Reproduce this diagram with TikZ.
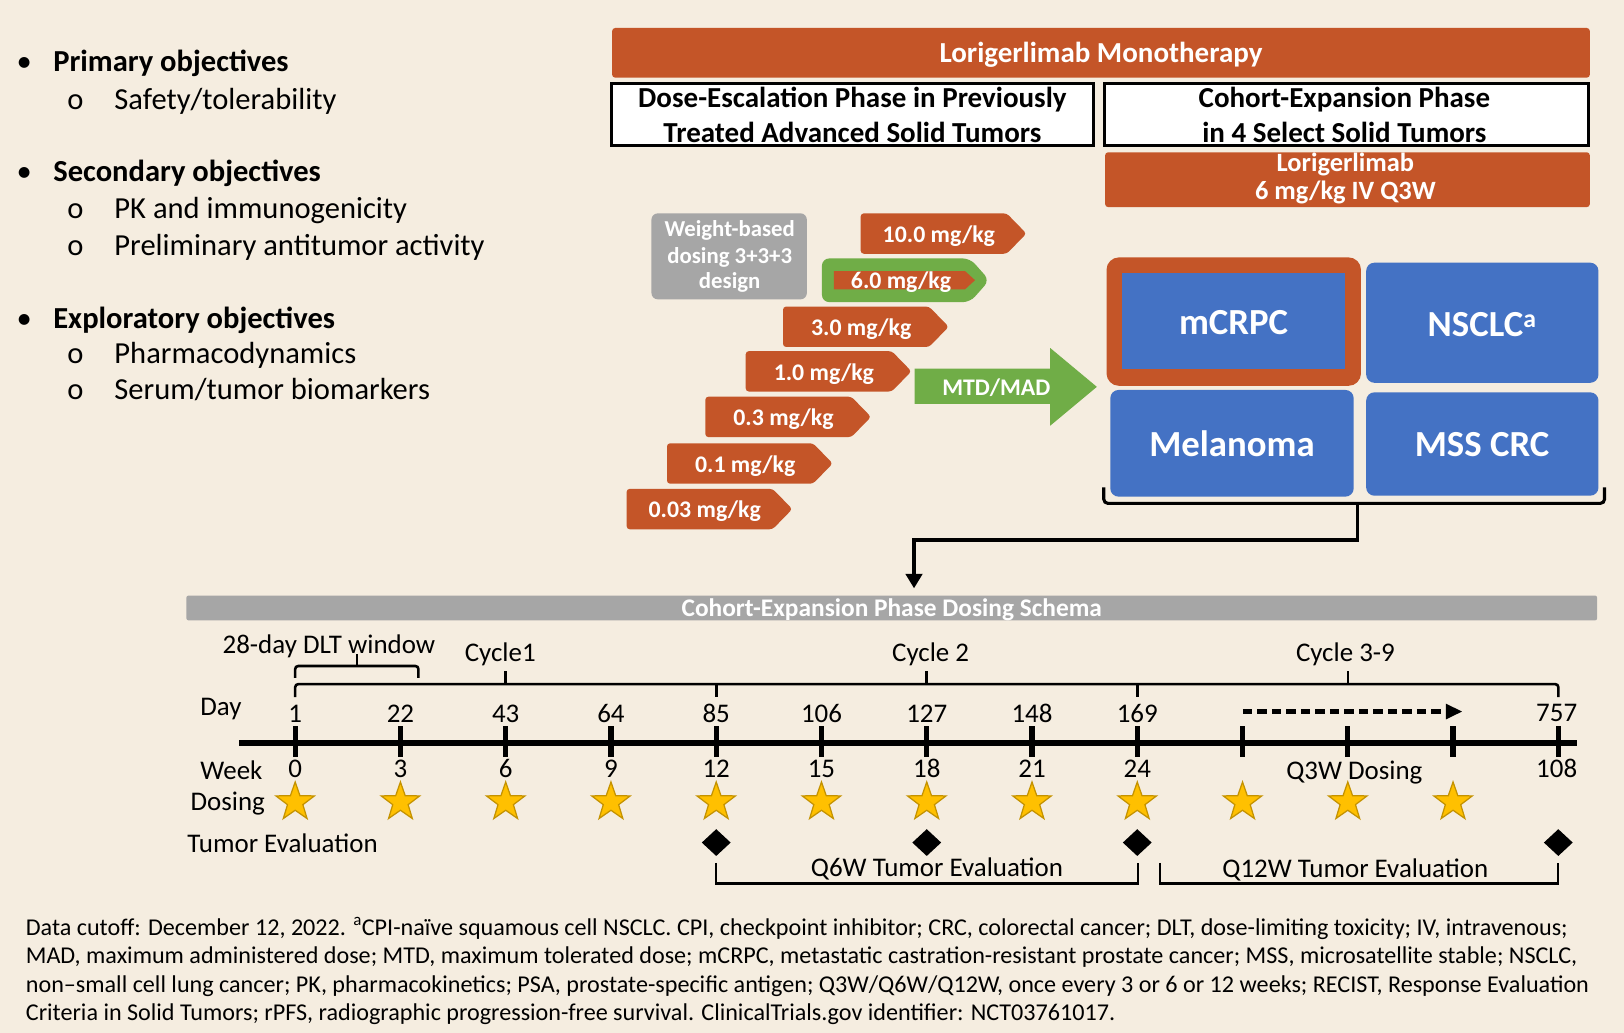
\documentclass[tikz,border=0pt]{standalone}
\usepackage{fontspec}
\setmainfont{Carlito}
\usetikzlibrary{shapes.geometric,arrows.meta}
\definecolor{bgc}{RGB}{245,237,224}
\definecolor{org}{RGB}{196,85,40}
\definecolor{blu}{RGB}{68,114,196}
\definecolor{grn}{RGB}{112,173,71}
\definecolor{gry}{RGB}{166,166,166}
\definecolor{gld}{RGB}{255,192,0}
\definecolor{glddk}{RGB}{196,146,0}
\newcommand\fsz[1]{\fontsize{#1}{#1}\selectfont}
\newcommand\dosearrow[5]{%
  \path[fill=#5, rounded corners=3pt] (#2,#3) -- ({#2+141},#3) -- ({#2+160},{#3+19.5}) -- ({#2+141},{#3+39}) -- (#2,{#3+39}) -- cycle;
  \node[doselbl] (#1) at ({#2+75.5},{#3+28}) {#4};}
\begin{document}
\begin{tikzpicture}[x=1pt,y=-1pt,
  lbl/.style={inner sep=0pt, outer sep=0pt},
  hd/.style={lbl, anchor=base west, font=\fsz{29.5}\bfseries},
  it/.style={lbl, anchor=base west, font=\fsz{29.5}},
  wb/.style={lbl, anchor=base, text=white},
  bb/.style={lbl, anchor=base, text=black, font=\fsz{28}\bfseries},
  doselbl/.style={lbl, anchor=base, text=white, font=\fsz{23}\bfseries},
  tl/.style={lbl, anchor=base, font=\fsz{26}},
  tlw/.style={lbl, anchor=base west, font=\fsz{26}},
  ft/.style={lbl, anchor=base west, font=\fsz{23.3}},
  panel/.style={inner sep=0pt, outer sep=0pt},
  blubox/.style={panel, fill=blu, rounded corners=8pt},
  wbox/.style={panel, draw=black, line width=2.5pt, fill=white},
  br/.style={line width=2.5pt, rounded corners=3pt},
  br2/.style={line width=2pt},
  starn/.style={star, star points=5, star point ratio=2.5, minimum size=39pt, inner sep=0pt, fill=gld, draw=glddk, line width=1.2pt},
  dmd/.style={diamond, fill=black, minimum width=28pt, minimum height=26pt, inner sep=0pt}
]
\fill[bgc] (0,0) rectangle (1568,997);
\useasboundingbox (0,0) rectangle (1568,997);

% ---------- objectives ----------
\node[it] (b1) at (16,69.2) {\textbullet};
\node[hd] (h1) at (51.5,69.2) {Primary objectives};
\node[it] (o1) at (65,105.6) {o};
\node[it] (i1) at (110.5,105.6) {Safety/tolerability};
\node[it] (b2) at (16,175.4) {\textbullet};
\node[hd] (h2) at (51.5,175.4) {Secondary objectives};
\node[it] (o2) at (65,210.8) {o};
\node[it] (i2) at (110.5,210.8) {PK and immunogenicity};
\node[it] (o3) at (65,246.2) {o};
\node[it] (i3) at (110.5,246.2) {Preliminary antitumor activity};
\node[it] (b3) at (16,317) {\textbullet};
\node[hd] (h3) at (51.5,317) {Exploratory objectives};
\node[it] (o4) at (65,350.8) {o};
\node[it] (i4) at (110.5,350.8) {Pharmacodynamics};
\node[it] (o5) at (65,385.6) {o};
\node[it] (i5) at (110.5,385.6) {Serum/tumor biomarkers};

% ---------- header boxes ----------
\node[panel, fill=org, rounded corners=3pt, minimum width=944pt, minimum height=48pt] (mono) at (1063,51) {};
\node[wb, font=\fsz{28}\bfseries] (monot) at (1063,60.5) {Lorigerlimab Monotherapy};
\node[wbox, minimum width=465pt, minimum height=60pt] (esc) at (823,110.5) {};
\node[bb] (esc1) at (823,104) {Dose-Escalation Phase in Previously};
\node[bb] (esc2) at (823,137.5) {Treated Advanced Solid Tumors};
\node[wbox, minimum width=467pt, minimum height=60pt] (coh) at (1300,110.5) {};
\node[bb] (coh1) at (1298,104) {Cohort-Expansion Phase};
\node[bb] (coh2) at (1298,137.5) {in 4 Select Solid Tumors};
\node[panel, fill=org, rounded corners=3pt, minimum width=468pt, minimum height=53pt] (lori) at (1301,173.5) {};
\node[wb, font=\fsz{25.5}\bfseries] (lori1) at (1299,166) {Lorigerlimab};
\node[wb, font=\fsz{25.5}\bfseries] (lori2) at (1299,193) {6 mg/kg IV Q3W};

% ---------- dose escalation ----------
\node[panel, fill=gry, rounded corners=6pt, minimum width=150pt, minimum height=83pt] (wbd) at (704,247.5) {};
\node[wb, font=\fsz{22}\bfseries] (wbd1) at (704.5,228.5) {Weight-based};
\node[wb, font=\fsz{22}\bfseries] (wbd2) at (704.5,254) {dosing 3+3+3};
\node[wb, font=\fsz{22}\bfseries] (wbd3) at (704.5,278.5) {design};

\dosearrow{d10}{831}{206}{10.0 mg/kg}{org}
\path[fill=grn, rounded corners=7pt] (793.6,249.5) -- (936.6,249.5) -- (955.3,270.6) -- (936.6,291.7) -- (793.6,291.7) -- cycle;
\path[fill=org] (805,261.7) -- (931.7,261.7) -- (941.4,270.5) -- (931.7,279.4) -- (805,279.4) -- cycle;
\node[doselbl] (d6) at (870,278.4) {6.0 mg/kg};
\dosearrow{d3}{756}{296}{3.0 mg/kg}{org}
\dosearrow{d1}{720}{339}{1.0 mg/kg}{org}
\dosearrow{d03}{681}{383}{0.3 mg/kg}{org}
\dosearrow{d01}{644}{428}{0.1 mg/kg}{org}
\dosearrow{d003}{605}{472}{0.03 mg/kg}{org}

\path[fill=grn] (883,356) -- (1014,356) -- (1014,336) -- (1059,373.5) -- (1014,411) -- (1014,390) -- (883,390) -- cycle;
\node[doselbl] (mtd) at (962,381.4) {MTD/MAD};

% ---------- tumour boxes ----------
\node[panel, fill=org, rounded corners=12pt, minimum width=245.7pt, minimum height=124pt] (mcrpcO) at (1191.2,310.5) {};
\node[panel, fill=blu, minimum width=216pt, minimum height=92.6pt] (mcrpc) at (1191,310.3) {};
\node[wb, font=\fsz{35.5}\bfseries] (mcrpct) at (1191,322.8) {mCRPC};
\node[blubox, minimum width=224.3pt, minimum height=116pt] (nsclc) at (1431.2,311.6) {};
\node[wb, font=\fsz{35.5}\bfseries] (nsclct) at (1431,325) {NSCLC\textsuperscript{a}};
\node[blubox, minimum width=235pt, minimum height=103pt] (mel) at (1189.5,428) {};
\node[wb, font=\fsz{35.5}\bfseries] (melt) at (1189.5,440.3) {Melanoma};
\node[blubox, minimum width=224.3pt, minimum height=99.8pt] (mss) at (1431.2,428.7) {};
\node[wb, font=\fsz{35.5}\bfseries] (msst) at (1431,440.5) {MSS CRC};

\coordinate (bc) at (1311,486);
\draw[line width=3pt, rounded corners=4pt] (1065.7,470.5) -- (1065.7,486) -- (1549.2,486) -- (1549.2,470.5);
\coordinate (bend1) at (1311,521.4);
\coordinate (bend2) at (882.5,521.4);
\coordinate (arrtip) at (882.5,568);
\draw[line width=3pt, -{Triangle[length=14pt,width=16pt]}] (bc) -- (bend1) -- (bend2) -- (arrtip);

% ---------- schema ----------
\node[panel, fill=gry, rounded corners=2pt, minimum width=1362pt, minimum height=24pt] (schema) at (861,587) {};
\node[wb, font=\fsz{24.5}\bfseries] (schemat) at (861,595.4) {Cohort-Expansion Phase Dosing Schema};

\coordinate (axL) at (231,717);
\coordinate (axR) at (1522.7,717);
\draw[line width=6pt] (axL) -- (axR);
\foreach \i in {0,...,12} \draw[line width=5pt] ({285+101.63*\i},701) -- ({285+101.63*\i},730.6);

\foreach \i/\d in {0/1,1/22,2/43,3/64,4/85,5/106,6/127,7/148,8/169}
  \node[tl] (day\i) at ({285+101.63*\i},698) {\d};
\node[tl] (day12) at (1503,697) {757};
\foreach \i/\w in {0/0,1/3,2/6,3/9,4/12,5/15,6/18,7/21,8/24}
  \node[tl] (wk\i) at ({285+101.63*\i},750.5) {\w};
\node[tl] (wk12) at (1503,750.5) {108};
\node[tl] (q3w) at (1307.6,752.5) {Q3W Dosing};

\node[tlw] (dayl) at (193.5,690.6) {Day};
\node[tlw] (weekl) at (193.5,752.5) {Week};
\node[tlw] (dosl) at (184,783) {Dosing};
\node[tlw] (tevl) at (181,823) {Tumor Evaluation};

\foreach \i in {0,...,11} \node[starn] (st\i) at ({285+101.63*\i},774.5) {};
\foreach \i in {4,6,8,12} \node[dmd] (dm\i) at ({285+101.63*\i},813.5) {};

\draw[br] (285,673) -- (285,660.5) -- (1504.6,660.5) -- (1504.6,673);
\foreach \x in {691.5,1098.3} \draw[br] (\x,660.5) -- (\x,673);
\foreach \x in {488.3,894.5,1301.6} \draw[br] (\x,660.5) -- (\x,648);
\draw[br] (285,654.6) -- (285,643) -- (404,643) -- (404,654.6);
\draw[br] (344.6,643) -- (344.6,631.5);
\node[tlw] (dlt) at (215,630.8) {28-day DLT window};
\node[tl] (c1) at (483,639) {Cycle1};
\node[tl] (c2) at (898.5,639) {Cycle 2};
\node[tl] (c3) at (1299,639) {Cycle 3-9};

\coordinate (dA) at (1200,687);
\coordinate (dB) at (1412,687);
\draw[line width=4pt, dash pattern=on 9pt off 5pt, -{Triangle[length=16pt,width=14pt]}] (dA) -- (dB);

\draw[br2] (691.5,833) -- (691.5,853) -- (1098.3,853) -- (1098.3,833);
\draw[br2] (1120,833) -- (1120,853) -- (1504.6,853) -- (1504.6,833);
\node[tl] (q6) at (904.7,846.4) {Q6W Tumor Evaluation};
\node[tl] (q12) at (1308.6,847) {Q12W Tumor Evaluation};

% ---------- footer ----------
\node[ft] (f1) at (25,903) {Data cutoff: December 12, 2022. \textsuperscript{a}CPI-naïve squamous cell NSCLC. CPI, checkpoint inhibitor; CRC, colorectal cancer; DLT, dose-limiting toxicity; IV, intravenous;};
\node[ft] (f2) at (25,930.5) {MAD, maximum administered dose; MTD, maximum tolerated dose; mCRPC, metastatic castration-resistant prostate cancer; MSS, microsatellite stable; NSCLC,};
\node[ft] (f3) at (25,958) {non–small cell lung cancer; PK, pharmacokinetics; PSA, prostate-specific antigen; Q3W/Q6W/Q12W, once every 3 or 6 or 12 weeks; RECIST, Response Evaluation};
\node[ft] (f4) at (25,985.5) {Criteria in Solid Tumors; rPFS, radiographic progression-free survival. ClinicalTrials.gov identifier: NCT03761017.};
\end{tikzpicture}
\end{document}
